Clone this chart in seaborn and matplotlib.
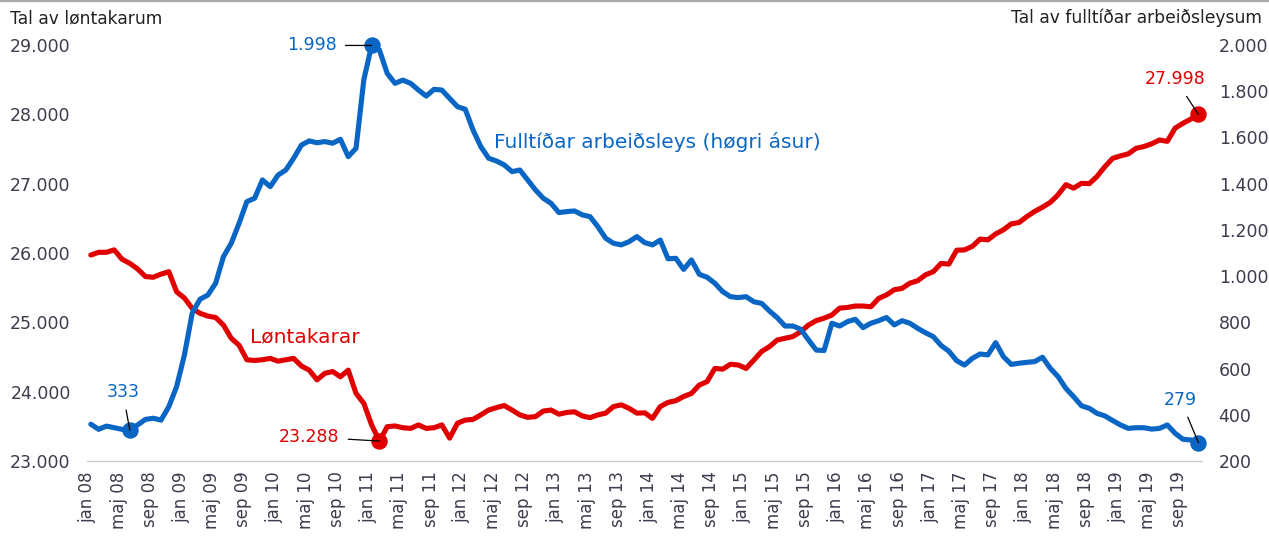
import matplotlib
matplotlib.use("Agg")
import matplotlib.pyplot as plt
from matplotlib.lines import Line2D
from matplotlib.ticker import FuncFormatter
import seaborn as sns
import pandas as pd

# ---- data (monthly, jan 08 .. nov 19) ----
loentakarar = [
    25970, 26010, 26010, 26045, 25910, 25850, 25770, 25660, 25650, 25695, 25730, 25440,
    25350, 25200, 25130, 25090, 25070, 24960, 24770, 24670, 24460, 24450, 24460, 24480,
    24440, 24460, 24480, 24370, 24310, 24170, 24265, 24290, 24215, 24310, 23975, 23830,
    23520, 23288, 23495, 23505, 23480, 23470, 23520, 23470, 23480, 23520, 23330, 23545,
    23590, 23600, 23665, 23735, 23770, 23800, 23735, 23665, 23630, 23640, 23720, 23735,
    23675, 23700, 23710, 23650, 23625, 23665, 23690, 23785, 23810, 23760, 23690, 23695,
    23615, 23785, 23845, 23870, 23930, 23975, 24095, 24145, 24335, 24325, 24395, 24385,
    24335, 24455, 24580, 24650, 24745, 24770, 24795, 24865, 24960, 25025, 25060, 25105,
    25205, 25215, 25235, 25235, 25225, 25345, 25395, 25470, 25490, 25565, 25600, 25685,
    25730, 25850, 25840, 26040, 26045, 26095, 26200, 26190, 26275, 26335, 26420, 26440,
    26525, 26600, 26660, 26730, 26840, 26985, 26935, 27005, 27000, 27105, 27245, 27365,
    27400, 27430, 27510, 27535, 27575, 27630, 27610, 27800, 27870, 27930, 27998,
]
arbeidsleys = [
    359, 337, 351, 344, 337, 333, 356, 380, 385, 377, 435, 522,
    659, 840, 900, 918, 969, 1084, 1142, 1228, 1322, 1337, 1416, 1387,
    1437, 1459, 1510, 1567, 1585, 1577, 1582, 1575, 1592, 1517, 1553, 1850,
    1998, 1978, 1877, 1834, 1848, 1834, 1805, 1779, 1808, 1805, 1769, 1733,
    1722, 1632, 1560, 1510, 1498, 1481, 1452, 1459, 1416, 1373, 1337, 1315,
    1275, 1279, 1282, 1265, 1257, 1214, 1164, 1142, 1135, 1149, 1171, 1145,
    1135, 1156, 1075, 1077, 1029, 1070, 1008, 995, 969, 933, 911, 907,
    911, 889, 882, 849, 820, 784, 784, 770, 724, 680, 678, 796,
    784, 803, 813, 777, 796, 807, 821, 789, 807, 796, 774, 755,
    738, 700, 675, 634, 615, 644, 663, 659, 712, 651, 618, 623,
    627, 630, 649, 601, 565, 514, 478, 439, 428, 406, 395, 375,
    356, 341, 344, 344, 338, 341, 356, 320, 294, 291, 279,
]
tick_labels = [
    "jan 08", "maj 08", "sep 08", "jan 09", "maj 09", "sep 09",
    "jan 10", "maj 10", "sep 10", "jan 11", "maj 11", "sep 11",
    "jan 12", "maj 12", "sep 12", "jan 13", "maj 13", "sep 13",
    "jan 14", "maj 14", "sep 14", "jan 15", "maj 15", "sep 15",
    "jan 16", "maj 16", "sep 16", "jan 17", "maj 17", "sep 17",
    "jan 18", "maj 18", "sep 18", "jan 19", "maj 19", "sep 19",
]
left_title = "Tal av løntakarum"
right_title = "Tal av fulltíðar arbeiðsleysum"
red_label = "Løntakarar"
blue_label = "Fulltíðar arbeiðsleys (høgri ásur)"

# annotated points: (index, text)
red_notes = [(37, "23.288"), (142, "27.998")]
blue_notes = [(5, "333"), (36, "1.998"), (142, "279")]

RED = "#E00000"
BLUE = "#0A66C4"
TICKC = "#3c3c4e"

n = len(loentakarar)
df = pd.DataFrame({
    "t": [i + 0.45 for i in range(n)],
    "red": loentakarar,
    "blue": arbeidsleys,
})

sns.set_style("white")
plt.rcParams["font.family"] = ["DejaVu Sans"]

fig = plt.figure(figsize=(12.69, 5.40), dpi=100)
ax = fig.add_axes([0.0688, 0.1463, 0.8784, 0.7704])
ax2 = ax.twinx()

sns.lineplot(data=df, x="t", y="red", ax=ax, color=RED, linewidth=3.7,
             solid_joinstyle="round", solid_capstyle="round")
sns.lineplot(data=df, x="t", y="blue", ax=ax2, color=BLUE, linewidth=3.7,
             solid_joinstyle="round", solid_capstyle="round")
for l in ax.lines + ax2.lines:
    l.set_clip_on(False)

ax.set_xlim(0, 142.9)
ax.set_ylim(23000, 29000)
ax2.set_ylim(200, 2000)
ax.set_yticks(range(23000, 29001, 1000))
ax2.set_yticks(range(200, 2001, 200))
fmt = FuncFormatter(lambda v, p: f"{int(v):,}".replace(",", "."))
ax.yaxis.set_major_formatter(fmt)
ax2.yaxis.set_major_formatter(fmt)

ax.set_xticks(range(0, 4 * len(tick_labels), 4))
ax.set_xticklabels(tick_labels, rotation=90, ha="center", va="top")
ax.tick_params(axis="x", direction="inout", length=9, width=1, color="#cccccc",
               pad=3, labelsize=12, labelcolor=TICKC)
ax.tick_params(axis="y", length=0, pad=12, labelsize=12.5, labelcolor=TICKC)
ax2.tick_params(axis="y", length=0, pad=12, labelsize=12.5, labelcolor=TICKC)
ax.set_xlabel("")
ax.set_ylabel("")
ax2.set_ylabel("")

for a in (ax, ax2):
    for s in ("left", "right", "top"):
        a.spines[s].set_visible(False)
    a.spines["bottom"].set_color("#cccccc")
    a.spines["bottom"].set_linewidth(1)
ax2.spines["bottom"].set_visible(False)

# markers + annotations
px = 0.72  # points per pixel at 100 dpi
red_offsets = {37: (-40, 4), 142: (-23, 35)}
red_ha = {37: "right", 142: "center"}
blue_offsets = {5: (-7, 38), 36: (-35, 0), 142: (-18, 43)}
blue_ha = {5: "center", 36: "right", 142: "center"}

for i, txt in red_notes:
    x, y = df["t"][i], loentakarar[i]
    ax.scatter([x], [y], s=140, color=RED, zorder=5, clip_on=False, linewidths=0)
    dx, dy = red_offsets[i]
    ax.annotate(txt, (x, y), xytext=(dx * px, dy * px), textcoords="offset points",
                ha=red_ha[i], va="center", fontsize=12.5, color=RED,
                arrowprops=dict(arrowstyle="-", color="black", lw=0.9,
                                shrinkA=4, shrinkB=0), zorder=6)
for i, txt in blue_notes:
    x, y = df["t"][i], arbeidsleys[i]
    ax2.scatter([x], [y], s=140, color=BLUE, zorder=5, clip_on=False, linewidths=0)
    dx, dy = blue_offsets[i]
    ax2.annotate(txt, (x, y), xytext=(dx * px, dy * px), textcoords="offset points",
                 ha=blue_ha[i], va="center", fontsize=12.5, color=BLUE,
                 arrowprops=dict(arrowstyle="-", color="black", lw=0.9,
                                 shrinkA=4, shrinkB=0), zorder=6)

# series labels
ax.text(20.9, 24789, red_label, color=RED, fontsize=14.5, ha="left", va="center")
ax2.text(52.1, 1580, blue_label, color=BLUE, fontsize=14.5, ha="left", va="center")

# axis titles
fig.text(10 / 1269, 1 - 18 / 540, left_title, ha="left", va="center",
         fontsize=12.3, color="#222222")
fig.text(1262 / 1269, 1 - 18 / 540, right_title, ha="right", va="center",
         fontsize=12.3, color="#222222")

# top border line
fig.add_artist(Line2D([0, 1], [0.998, 0.998], transform=fig.transFigure,
                      color="#aaaaaa", lw=1.6))

fig.savefig("out.png", dpi=100)
